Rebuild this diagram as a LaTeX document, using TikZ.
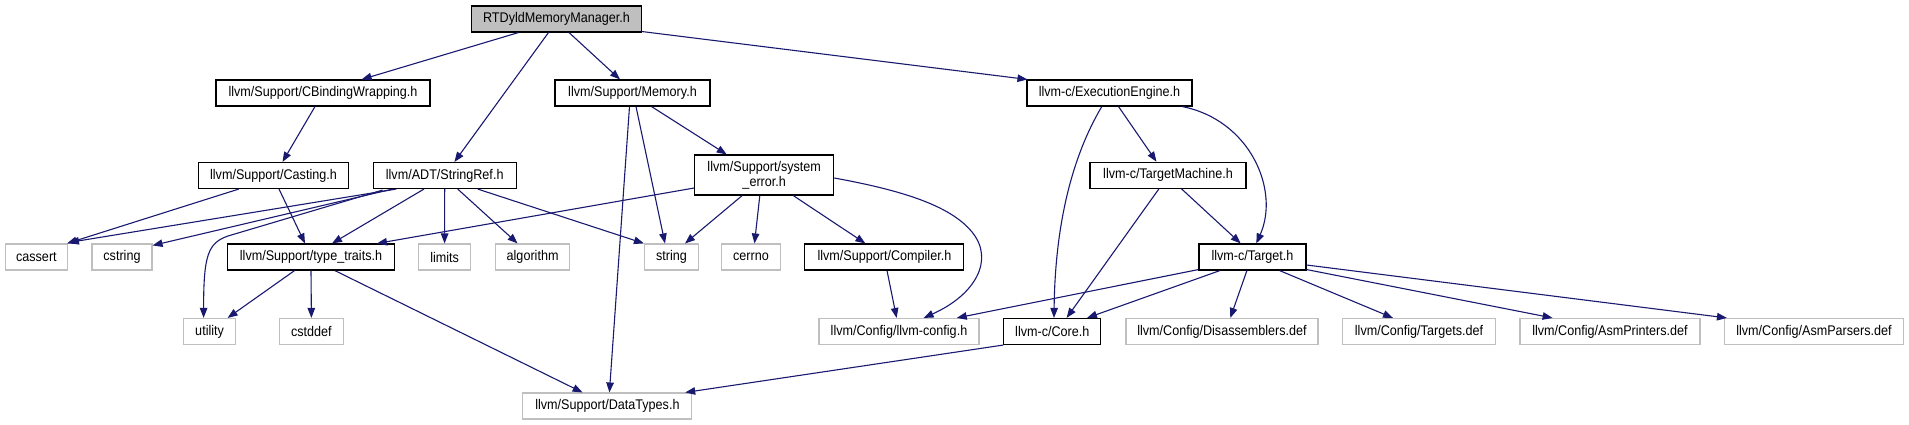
\documentclass[tikz,border=0pt]{standalone}
\usepackage{fontspec}
\newfontfamily\dxfont[FakeStretch=0.9]{Liberation Sans}
\usetikzlibrary{calc,arrows.meta}
\definecolor{edgec}{HTML}{191970}
\definecolor{boxgray}{HTML}{BFBFBF}
\tikzset{
  nd/.style={draw=black, line width=1.1pt, minimum height=26pt, inner sep=0pt, align=center,
    font=\dxfont\fontsize{14}{15}\selectfont, text=black},
  gd/.style={nd, draw=boxgray},
  ed/.style={draw=edgec, line width=1.1pt, -{Triangle[length=10pt,width=7.5pt]}},
}
\begin{document}
\begin{tikzpicture}[x=1pt,y=-1pt]
\useasboundingbox (0,0) rectangle (1909,425);
% nodes
\node[nd, fill=boxgray, minimum width=170pt] (root) at (556.5,19) {RTDyldMemoryManager.h};
\node[nd, minimum width=214pt] (cbw) at (323,93) {llvm/Support/CBindingWrapping.h};
\node[nd, minimum width=155pt] (mem) at (632.5,93) {llvm/Support/Memory.h};
\node[nd, minimum width=165pt] (ee) at (1109.5,93) {llvm-c/ExecutionEngine.h};
\node[nd, minimum width=150pt] (cast) at (273.5,175.5) {llvm/Support/Casting.h};
\node[nd, minimum width=143pt] (sref) at (444.7,175.5) {llvm/ADT/StringRef.h};
\node[nd, minimum width=139pt, minimum height=40pt] (syserr) at (764.2,175) {llvm/Support/system\\\_error.h};
\node[nd, minimum width=156pt] (tm) at (1168,175.2) {llvm-c/TargetMachine.h};
\node[gd, minimum width=62pt] (cassert) at (36.4,257) {cassert};
\node[gd, minimum width=60pt] (cstring) at (122,257) {cstring};
\node[nd, minimum width=167pt] (tt) at (311,257) {llvm/Support/type\_traits.h};
\node[gd, minimum width=52pt] (limits) at (444.6,257) {limits};
\node[gd, minimum width=74pt] (algo) at (532.6,257) {algorithm};
\node[gd, minimum width=54pt] (string) at (671.5,257) {string};
\node[gd, minimum width=59pt] (cerrno) at (751,257) {cerrno};
\node[nd, minimum width=159pt] (comp) at (884.4,257) {llvm/Support/Compiler.h};
\node[nd, minimum width=107pt] (target) at (1252.5,257) {llvm-c/Target.h};
\node[gd, minimum width=52pt] (utility) at (209.6,331.5) {utility};
\node[gd, minimum width=64pt] (cstddef) at (311.4,331.5) {cstddef};
\node[gd, minimum width=160pt] (cfg) at (899,331.5) {llvm/Config/llvm-config.h};
\node[nd, minimum width=97pt] (core) at (1052.3,331.5) {llvm-c/Core.h};
\node[gd, minimum width=192pt] (dis) at (1222,331.5) {llvm/Config/Disassemblers.def};
\node[gd, minimum width=153pt] (tdef) at (1419,331.5) {llvm/Config/Targets.def};
\node[gd, minimum width=180pt] (aprint) at (1610,331.5) {llvm/Config/AsmPrinters.def};
\node[gd, minimum width=179pt] (aparse) at (1814,331.5) {llvm/Config/AsmParsers.def};
\node[gd, minimum width=169pt] (dt) at (607.4,406) {llvm/Support/DataTypes.h};
% edges
\draw[ed] ($(root.south)+(-38,0)$) -- ($(cbw.north)+(38.6,0)$);
\draw[ed] ($(root.south)+(-8,0)$) -- ($(sref.north)+(9.7,0)$);
\draw[ed] ($(root.south)+(12.5,0)$) -- ($(mem.north)+(-12.5,0)$);
\draw[ed] ($(root.south east)+(0,-1)$) -- ($(ee.north west)+(1,0)$);
\draw[ed] ($(cbw.south)+(-8,0)$) -- ($(cast.north)+(9,0)$);
\draw[ed] ($(cast.south)+(-34.7,0)$) -- ($(cassert.north east)+(-1,0)$);
\draw[ed] ($(cast.south)+(5.5,0)$) -- ($(tt.north)+(-6,0)$);
\draw[ed] ($(sref.south west)+(23.7,0)$) -- ($(cassert.north east)+(1,-1)$);
\draw[ed] ($(sref.south west)+(20,0)$) -- ($(cstring.north east)+(0,2)$);
\draw[ed] ($(sref.south west)+(10,1)$) -- (228,236) .. controls (208,243) and (203.6,255) .. ($(utility.north)+(-6,0)$);
\draw[ed] ($(sref.south)+(-20.7,0)$) -- ($(tt.north)+(21,0)$);
\draw[ed] (sref.south) -- (limits.north);
\draw[ed] ($(sref.south)+(13,0)$) -- ($(algo.north)+(-15,0)$);
\draw[ed] ($(sref.south)+(33,0)$) -- (string.north west);
\draw[ed] ($(mem.south)+(-3,0)$) -- ($(dt.north)+(2,0)$);
\draw[ed] ($(mem.south)+(3.5,0)$) -- ($(string.north)+(-6.5,0)$);
\draw[ed] ($(mem.south)+(19,0)$) -- ($(syserr.north)+(-37.5,0)$);
\draw[ed] ($(syserr.west)+(0,13)$) -- ($(tt.north)+(66,0)$);
\draw[ed] ($(syserr.south)+(-22,0)$) -- ($(string.north)+(13.5,0)$);
\draw[ed] ($(syserr.south)+(-4.4,0)$) -- ($(cerrno.north)+(3.5,0)$);
\draw[ed] ($(syserr.south)+(29,0)$) -- ($(comp.north)+(-19,0)$);
\draw[ed] ($(syserr.east)+(0,3)$) .. controls (900,190) and (950,205) .. (972,232) .. controls (995,260) and (975,295) .. ($(cfg.north)+(24.6,0)$);
\draw[ed] ($(tt.south)+(-16.4,0)$) -- ($(utility.north)+(18,0)$);
\draw[ed] (tt.south) -- (cstddef.north);
\draw[ed] ($(tt.south)+(23.8,0)$) -- ($(dt.north)+(-24.8,0)$);
\draw[ed] ($(comp.south)+(2.6,0)$) -- ($(cfg.north)+(-2.4,0)$);
\draw[ed] ($(ee.south)+(-7.7,0)$) .. controls (1070,160) and (1055,230) .. ($(core.north)+(1.7,0)$);
\draw[ed] ($(ee.south)+(9,0)$) -- ($(tm.north)+(-11.5,0)$);
\draw[ed] ($(ee.south east)+(-10.4,0)$) .. controls (1250,120) and (1280,190) .. ($(target.north)+(3.8,0)$);
\draw[ed] ($(tm.south)+(-9,0)$) -- ($(core.north)+(14.3,0)$);
\draw[ed] ($(tm.south)+(13.4,0)$) -- ($(target.north)+(-11.8,0)$);
\draw[ed] ($(target.south west)+(0,-1)$) -- ($(cfg.north)+(57.7,0)$);
\draw[ed] ($(target.south)+(-32.5,0)$) -- ($(core.north)+(34.7,0)$);
\draw[ed] ($(target.south)+(-5.6,0)$) -- ($(dis.north)+(8.3,0)$);
\draw[ed] ($(target.south)+(27,0)$) -- ($(tdef.north)+(-26,0)$);
\draw[ed] ($(target.south east)+(0,-1)$) -- ($(aprint.north)+(-57.4,0)$);
\draw[ed] ($(target.east)+(0,8)$) -- ($(aparse.north west)+(3,0)$);
\draw[ed] (core.south west) -- ($(dt.north)+(77.8,0)$);
\end{tikzpicture}
\end{document}
